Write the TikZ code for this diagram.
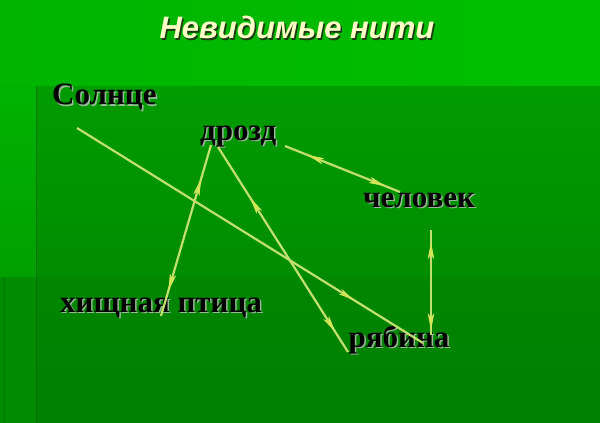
\documentclass[tikz,border=0pt]{standalone}
\usepackage{fontspec}
\setmainfont{Liberation Serif}
\newfontfamily\titlefont{Liberation Sans}
\usetikzlibrary{arrows.meta,decorations.markings}
\definecolor{topL}{HTML}{00B400}
\definecolor{topR}{HTML}{00BF00}
\definecolor{midT}{HTML}{009C00}
\definecolor{midB}{HTML}{008C00}
\definecolor{lowT}{HTML}{008600}
\definecolor{lowB}{HTML}{008000}
\definecolor{stripT}{HTML}{00B200}
\definecolor{stripB}{HTML}{00A000}
\definecolor{threadc}{HTML}{C2E070}
\definecolor{tipc}{HTML}{D2E658}
\definecolor{titlec}{HTML}{FFFFC8}
\definecolor{titlesh}{HTML}{1E3A10}
\definecolor{labsh}{HTML}{9CB89C}
\tikzset{
  lab/.style={anchor=base west, inner sep=0pt, font=\bfseries\fontsize{31}{36}\selectfont, text=black},
  labshadow/.style={anchor=base west, inner sep=0pt, font=\bfseries\fontsize{31}{36}\selectfont, text=labsh},
  thread/.style={draw=threadc, line width=2.2pt},
  tipat/.style={postaction={decorate}, decoration={markings, mark=at position #1 with {\arrow[tipc]{Stealth[length=16pt,width=6pt,inset=4pt]}}}},
  tipback/.style={postaction={decorate}, decoration={markings, mark=at position #1 with {\arrowreversed[tipc]{Stealth[length=16pt,width=6pt,inset=4pt]}}}}
}
\begin{document}
\begin{tikzpicture}[x=1pt,y=-1pt]
\useasboundingbox (0,0) rectangle (600,423);
% background
\shade[left color=topL, right color=topR] (0,0) rectangle (600,86);
\shade[top color=midT, bottom color=midB] (36,86) rectangle (600,277);
\shade[top color=lowT, bottom color=lowB] (36,277) rectangle (600,423);
\shade[top color=stripT, bottom color=stripB] (0,86) rectangle (36,277);
\fill[midB] (0,277) rectangle (36,423);
\draw[color=black!40!green!60!black, line width=0.8pt, opacity=0.5] (36,86) -- (36,423);
\draw[color=black!40!green!60!black, line width=0.6pt, opacity=0.4] (4,277) -- (4,423);
% title
\node[anchor=base, inner sep=0pt, font=\titlefont\bfseries\itshape\fontsize{31}{36}\selectfont, text=titlesh] (titlesh) at (298.5,40) {Невидимые нити};
\node[anchor=base, inner sep=0pt, font=\titlefont\bfseries\itshape\fontsize{31}{36}\selectfont, text=titlec] (title) at (297,38.5) {Невидимые нити};
% labels
\node[labshadow] (sunsh) at (53.5,106) {Солнце};
\node[lab] (sun) at (52,104.5) {Солнце};
\node[labshadow] (thrsh) at (201.5,141.5) {дрозд};
\node[lab] (thrush) at (200,140) {дрозд};
\node[labshadow] (mansh) at (364.5,208.5) {человек};
\node[lab] (man) at (363,207) {человек};
\node[labshadow] (birdsh) at (61.5,313.5) {хищная птица};
\node[lab] (bird) at (60,312) {хищная птица};
\node[labshadow] (rowsh) at (350,348.5) {рябина};
\node[lab] (rowan) at (348.5,347) {рябина};
% connector end points
\coordinate (sunE) at (77,128);
\coordinate (rowanA) at (423,343);
\coordinate (thrA) at (211,145);
\coordinate (birdE) at (161,316);
\coordinate (thrB) at (218,147);
\coordinate (rowanB) at (348,352);
\coordinate (thrC) at (285,146);
\coordinate (manA) at (400,192);
\coordinate (manB) at (431,230);
\coordinate (rowanC) at (431,335);
% threads
\draw[thread, tipat=0.8] (sunE) -- (rowanA);
\draw[thread, tipback=0.2, tipat=0.85] (thrA) -- (birdE);
\draw[thread, tipback=0.25, tipat=0.9] (thrB) -- (rowanB);
\draw[thread, tipback=0.2, tipat=0.87] (thrC) -- (manA);
\draw[thread, tipback=0.12, tipat=0.95] (manB) -- (rowanC);
\end{tikzpicture}
\end{document}
